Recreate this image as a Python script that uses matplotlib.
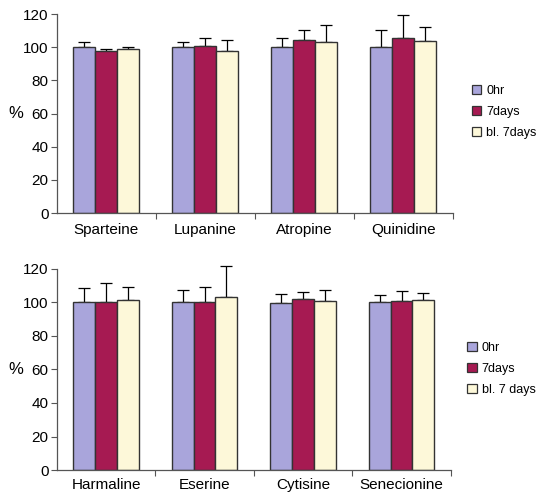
import numpy as np
import matplotlib.pyplot as plt
from matplotlib.patches import Patch

plt.rcParams['font.family'] = ['Liberation Sans', 'DejaVu Sans']

# upper panel
top_names = ['Sparteine', 'Lupanine', 'Atropine', 'Quinidine']
top_0hr = [100, 100, 100, 100]
top_0hr_err = [3, 3.3, 5.7, 10.5]
top_7d = [98, 101, 104.5, 105.7]
top_7d_err = [1.1, 4.8, 6, 14]
top_bl = [99.1, 98, 103.3, 103.9]
top_bl_err = [1.2, 6.5, 10, 8.4]
top_labels = ['0hr', '7days', 'bl. 7days']

# lower panel
bot_names = ['Harmaline', 'Eserine', 'Cytisine', 'Senecionine']
bot_0hr = [100, 100, 99.7, 100]
bot_0hr_err = [8.5, 7.3, 5.6, 4.6]
bot_7d = [100, 100, 102.3, 100.6]
bot_7d_err = [11.5, 9.3, 3.9, 6.4]
bot_bl = [101.4, 103.2, 100.8, 101.2]
bot_bl_err = [8, 18.4, 6.8, 4.2]
bot_labels = ['0hr', '7days', 'bl. 7 days']

colors = ['#A9A5DB', '#A61A52', '#FDF8D9']
edge = '#333333'

fig = plt.figure(figsize=(5.36, 4.92), dpi=100)
ax1 = fig.add_axes([0.106, 0.567, 0.739, 0.4045])
ax2 = fig.add_axes([0.106, 0.0447, 0.735, 0.4086])


def panel(ax, names, series, errs, labels, leg_x, leg_y, pad):
    x = np.arange(len(names)) + 0.5
    w = 0.222
    for i, (vals, e) in enumerate(zip(series, errs)):
        xi = x + (i - 1) * w
        ax.bar(xi, vals, w, color=colors[i], edgecolor=edge, linewidth=1.0,
               label=labels[i], zorder=2)
        eb = ax.errorbar(xi, vals, yerr=[np.zeros(len(e)), e], fmt='none',
                         ecolor='black', elinewidth=0.9, capsize=4, capthick=0.9,
                         zorder=1)
        for art in eb.get_children():
            art.set_clip_on(False)
    ax.set_xlim(0, len(names))
    ax.set_ylim(0, 120)
    ax.set_yticks(range(0, 121, 20))
    ax.set_xticks(np.arange(1, len(names) + 1))
    ax.set_xticklabels([])
    ax.set_xticks(x, minor=True)
    ax.set_xticklabels(names, minor=True)
    ax.tick_params(axis='x', which='minor', length=0, pad=pad, labelsize=11)
    ax.tick_params(axis='x', which='major', length=4, width=0.8, color='#555555')
    ax.tick_params(axis='y', length=4, width=0.8, color='#555555', labelsize=11, pad=2)
    for s in ['top', 'right']:
        ax.spines[s].set_visible(False)
    for s in ['left', 'bottom']:
        ax.spines[s].set_color('#555555')
        ax.spines[s].set_linewidth(0.9)
    ax.set_ylabel('%', rotation=0, fontsize=12, labelpad=5, va='center')
    handles = [Patch(facecolor=colors[i], edgecolor=edge, linewidth=0.9, label=labels[i])
               for i in range(3)]
    fig.legend(handles=handles, loc='center left', bbox_to_anchor=(leg_x, leg_y),
               frameon=False, fontsize=9, handlelength=0.75, handleheight=0.75,
               handletextpad=0.4, labelspacing=0.7, borderpad=0, borderaxespad=0)


panel(ax1, top_names, [top_0hr, top_7d, top_bl], [top_0hr_err, top_7d_err, top_bl_err],
      top_labels, 0.880, 1 - 112 / 492, 7)
panel(ax2, bot_names, [bot_0hr, bot_7d, bot_bl], [bot_0hr_err, bot_7d_err, bot_bl_err],
      bot_labels, 0.872, 1 - 369 / 492, 6)

fig.savefig('out.png', dpi=100)
